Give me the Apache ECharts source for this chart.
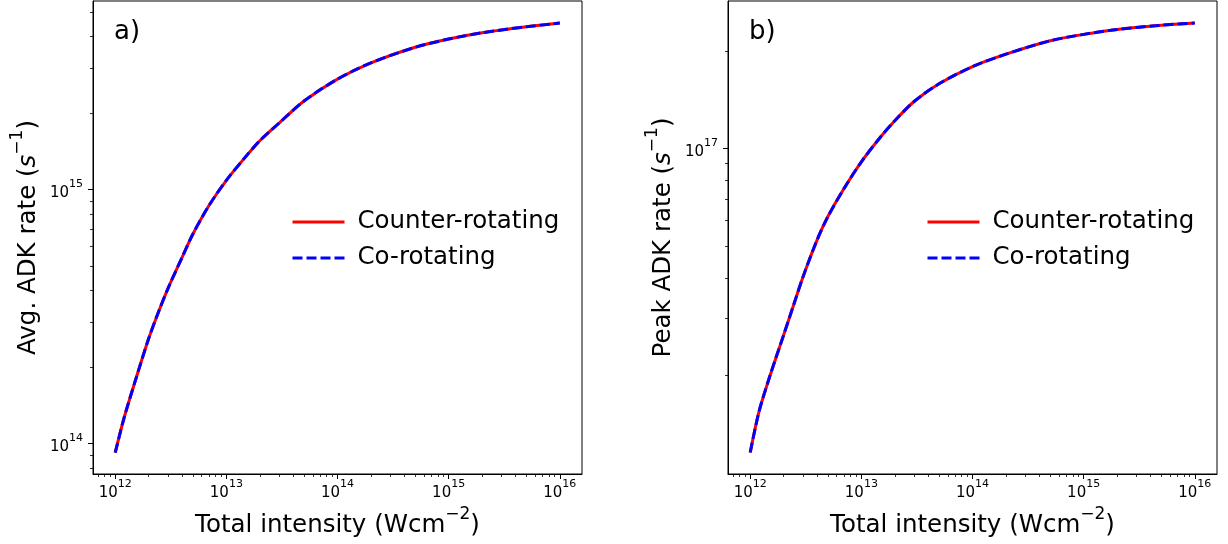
<!DOCTYPE html>
<html><head><meta charset="utf-8">
<script src="https://cdn.jsdelivr.net/npm/echarts@6/dist/echarts.min.js"></script>
<style>html,body{margin:0;padding:0;background:#fff}#c{width:1228px;height:544px}</style>
</head><body><div id="c"></div>
<script>
// ---- data ----
const intensity = [1e12, 1.2e12, 1.5e12, 2e12, 2.5e12, 3e12, 4e12, 5e12, 7e12, 1e13, 1.5e13, 2e13, 3e13, 5e13, 1e14, 2e14, 5e14, 1e15, 2e15, 5e15, 1e16];
const avgRate = [9.2e13, 1.26e14, 1.74e14, 2.59e14, 3.37e14, 4.10e14, 5.41e14, 6.68e14, 8.67e14, 1.087e15, 1.35e15, 1.556e15, 1.83e15, 2.23e15, 2.72e15, 3.15e15, 3.63e15, 3.91e15, 4.14e15, 4.37e15, 4.52e15];
const peakRate = [1.16e16, 1.55e16, 1.99e16, 2.67e16, 3.36e16, 4.05e16, 5.24e16, 6.18e16, 7.55e16, 9.11e16, 1.09e17, 1.22e17, 1.40e17, 1.585e17, 1.79e17, 1.955e17, 2.15e17, 2.25e17, 2.33e17, 2.40e17, 2.44e17];
// Co-rotating curves coincide with counter-rotating ones in the reference
const avgRateCo = [9.2e13, 1.26e14, 1.74e14, 2.59e14, 3.37e14, 4.10e14, 5.41e14, 6.68e14, 8.67e14, 1.087e15, 1.35e15, 1.556e15, 1.83e15, 2.23e15, 2.72e15, 3.15e15, 3.63e15, 3.91e15, 4.14e15, 4.37e15, 4.52e15];
const peakRateCo = [1.16e16, 1.55e16, 1.99e16, 2.67e16, 3.36e16, 4.05e16, 5.24e16, 6.18e16, 7.55e16, 9.11e16, 1.09e17, 1.22e17, 1.40e17, 1.585e17, 1.79e17, 1.955e17, 2.15e17, 2.25e17, 2.33e17, 2.40e17, 2.44e17];

const seriesNames = ['Counter-rotating', 'Co-rotating'];
const panelLabels = ['a)', 'b)'];
const yNames = ['Avg. ADK rate', 'Peak ADK rate'];
const xName = 'Total intensity';

const xMajorTicks = [1e12, 1e13, 1e14, 1e15, 1e16];
const xMinorTicks = [7e11, 8e11, 9e11, 2e12, 3e12, 4e12, 5e12, 6e12, 7e12, 8e12, 9e12, 2e13, 3e13, 4e13, 5e13, 6e13, 7e13, 8e13, 9e13, 2e14, 3e14, 4e14, 5e14, 6e14, 7e14, 8e14, 9e14, 2e15, 3e15, 4e15, 5e15, 6e15, 7e15, 8e15, 9e15];
const avgMajorTicks = [1e14, 1e15];
const avgMinorTicks = [8e13, 9e13, 2e14, 3e14, 4e14, 5e14, 6e14, 7e14, 8e14, 9e14, 2e15, 3e15, 4e15, 5e15];
const peakMajorTicks = [1e17];
const peakMinorTicks = [2e16, 3e16, 4e16, 5e16, 6e16, 7e16, 8e16, 9e16, 2e17];

const xRange = [Math.pow(10, 11.8), Math.pow(10, 16.2)];
const avgRange = [Math.pow(10, 13.88), Math.pow(10, 15.742)];
const peakRange = [Math.pow(10, 15.998), Math.pow(10, 17.455)];

// ---- styling ----
const FONT = 'DejaVu Sans';
const supFmt = v => '{b|10}{s|' + Math.round(Math.log10(v)) + '}';
const tickRich = {
  b: { fontSize: 15, fontFamily: FONT, color: '#000', lineHeight: 22, verticalAlign: 'bottom', padding: [0, 0, 0, 0] },
  s: { fontSize: 11, fontFamily: FONT, color: '#000', verticalAlign: 'top', lineHeight: 13 }
};
const nameRich = {
  n: { fontSize: 24.5, fontFamily: FONT, color: '#000', lineHeight: 32, verticalAlign: 'bottom' },
  i: { fontSize: 24.5, fontFamily: FONT, fontStyle: 'italic', color: '#000', lineHeight: 32, verticalAlign: 'bottom' },
  s: { fontSize: 17, fontFamily: FONT, color: '#000', verticalAlign: 'top', lineHeight: 17 }
};
const grids = [
  { left: 93, top: 1, width: 489, height: 473 },
  { left: 728, top: 1, width: 489, height: 473 }
];

function majorAxis(gi, range, ticks, pos, margin, extra) {
  return Object.assign({
    gridIndex: gi, type: 'log', logBase: 10, min: range[0], max: range[1], position: pos,
    axisLine: { show: true, lineStyle: { color: '#000', width: 1 } },
    axisTick: { show: true, inside: false, length: 5, customValues: ticks, lineStyle: { color: '#000', width: 1 } },
    axisLabel: { show: true, customValues: ticks, formatter: supFmt, rich: tickRich, color: '#000', fontSize: 15, fontFamily: FONT, margin, hideOverlap: false },
    splitLine: { show: false }, minorTick: { show: false }
  }, extra || {});
}
function minorAxis(gi, range, ticks, pos) {
  return {
    gridIndex: gi, type: 'log', logBase: 10, min: range[0], max: range[1], position: pos, offset: 0,
    axisLine: { show: false },
    axisTick: { show: true, inside: false, length: 3, customValues: ticks, lineStyle: { color: '#000', width: 0.8 } },
    axisLabel: { show: false },
    splitLine: { show: false }
  };
}
const xNameObj = {
  name: '{n|' + xName + ' (Wcm}{s|−2}{n|)}', nameLocation: 'middle', nameGap: 31,
  nameTextStyle: { rich: nameRich }
};
const yNameObj = i => ({
  name: '{n|' + yNames[i] + ' (}{i|s}{s|−1}{n|)}', nameLocation: 'middle', nameGap: 52,
  nameRotate: 90, nameTextStyle: { rich: nameRich }
});

const xAxes = [
  majorAxis(0, xRange, xMajorTicks, 'bottom', 5, xNameObj),
  minorAxis(0, xRange, xMinorTicks, 'bottom'),
  majorAxis(1, xRange, xMajorTicks, 'bottom', 5, xNameObj),
  minorAxis(1, xRange, xMinorTicks, 'bottom')
];
const yAxes = [
  majorAxis(0, avgRange, avgMajorTicks, 'left', 10, yNameObj(0)),
  minorAxis(0, avgRange, avgMinorTicks, 'left'),
  majorAxis(1, peakRange, peakMajorTicks, 'left', 10, yNameObj(1)),
  minorAxis(1, peakRange, peakMinorTicks, 'left')
];

const pair = (xs, ys) => xs.map((x, k) => [x, ys[k]]);
function lineSeries(name, xi, yi, data, color, dashed, z) {
  return {
    name, type: 'line', xAxisIndex: xi, yAxisIndex: yi, data,
    smooth: 0.3, showSymbol: false, symbol: 'none', z,
    lineStyle: { color, width: 3, type: dashed ? [10, 4] : 'solid' },
    itemStyle: { color }, emphasis: { disabled: true }, animation: false
  };
}
const series = [
  lineSeries(seriesNames[0], 0, 0, pair(intensity, avgRate), '#ff0000', false, 2),
  lineSeries(seriesNames[1], 0, 0, pair(intensity, avgRateCo), '#0000ff', true, 3),
  lineSeries(seriesNames[0], 2, 2, pair(intensity, peakRate), '#ff0000', false, 2),
  lineSeries(seriesNames[1], 2, 2, pair(intensity, peakRateCo), '#0000ff', true, 3)
];

const legendBase = left => ({
  data: seriesNames, left, top: 202, orient: 'vertical',
  itemWidth: 52, itemHeight: 14, itemGap: 6, selectedMode: false,
  itemStyle: { opacity: 0 },
  lineStyle: { width: 3 },
  textStyle: { fontSize: 24.5, fontFamily: FONT, color: '#000', padding: [0, 0, 0, 8], lineHeight: 30 }
});

const chart = echarts.init(document.getElementById('c'), null, { renderer: 'canvas' });
chart.setOption({
  animation: false,
  backgroundColor: '#fff',
  grid: grids.map(g => Object.assign({ show: true, borderColor: '#000', borderWidth: 1, backgroundColor: 'transparent', containLabel: false, outerBoundsMode: 'none' }, g)),
  xAxis: xAxes,
  yAxis: yAxes,
  legend: [legendBase(286), legendBase(921)],
  graphic: [
    { type: 'text', left: 114, top: 19, style: { text: panelLabels[0], font: '26px "DejaVu Sans"', fill: '#000' } },
    { type: 'text', left: 749, top: 19, style: { text: panelLabels[1], font: '26px "DejaVu Sans"', fill: '#000' } }
  ],
  series
});
</script></body></html>
